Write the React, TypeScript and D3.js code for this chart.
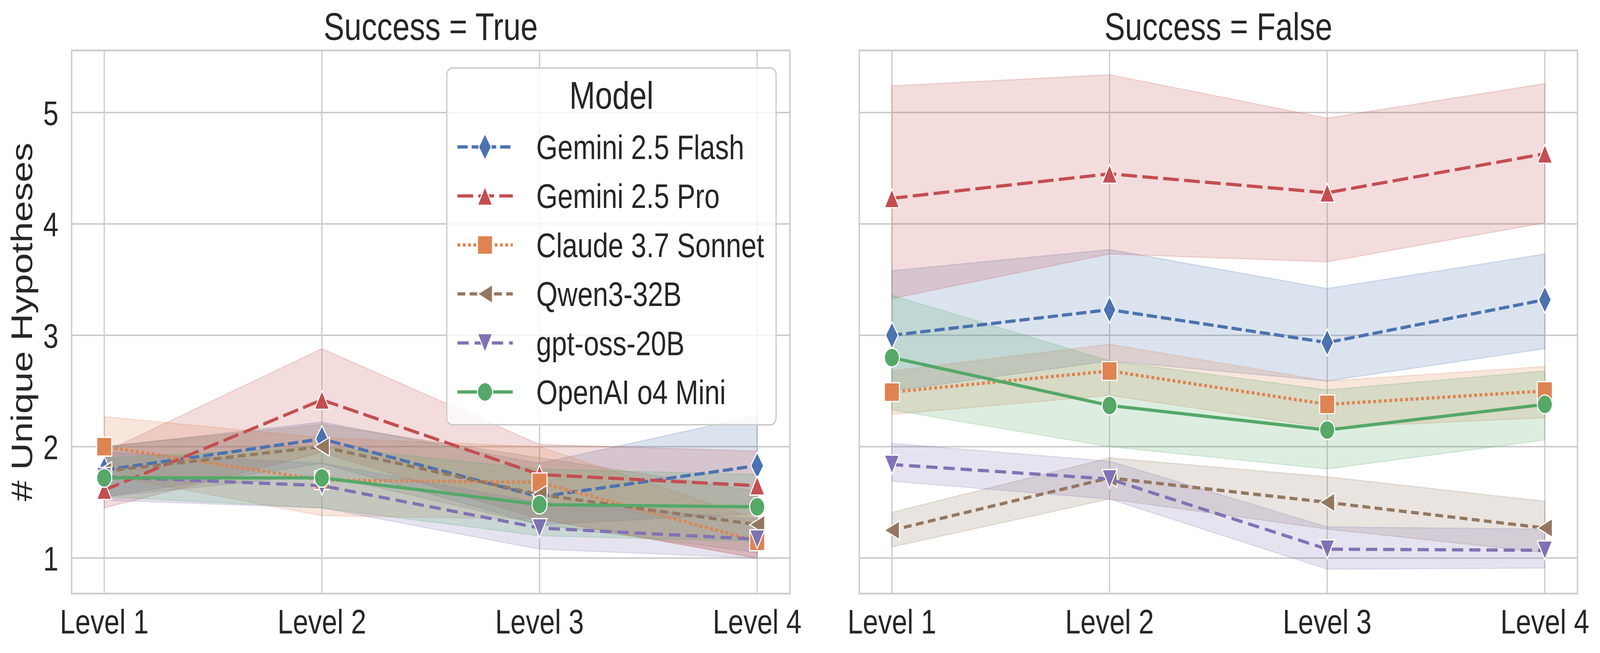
import * as React from 'react';
import * as d3 from 'd3';

// categories
const levels = ['Level 1', 'Level 2', 'Level 3', 'Level 4'];
const models = ['Gemini 2.5 Flash', 'Gemini 2.5 Pro', 'Claude 3.7 Sonnet', 'Qwen3-32B', 'gpt-oss-20B', 'OpenAI o4 Mini'];
const yTicks = [1, 2, 3, 4, 5];
const panelTitles = ['Success = True', 'Success = False'];

// Success = True, one row per model (same order as models)
const trueMean = [
  [1.79, 2.07, 1.55, 1.83],
  [1.61, 2.42, 1.75, 1.65],
  [2.0, 1.7, 1.68, 1.15],
  [1.78, 2.0, 1.57, 1.3],
  [1.73, 1.65, 1.27, 1.17],
  [1.72, 1.72, 1.48, 1.46],
];
const trueLow = [
  [1.55, 1.85, 1.3, 1.4],
  [1.45, 1.95, 1.35, 1.0],
  [1.75, 1.38, 1.35, 1.0],
  [1.55, 1.75, 1.3, 1.05],
  [1.52, 1.45, 1.08, 1.0],
  [1.55, 1.45, 1.2, 1.15],
];
const trueHigh = [
  [2.0, 2.22, 1.85, 2.28],
  [1.95, 2.88, 2.02, 1.96],
  [2.27, 2.08, 2.0, 1.35],
  [2.0, 2.2, 1.9, 1.6],
  [1.95, 1.85, 1.5, 1.35],
  [1.9, 2.0, 1.8, 1.75],
];

// Success = False
const falseMean = [
  [3.0, 3.23, 2.935, 3.32],
  [4.23, 4.45, 4.28, 4.63],
  [2.49, 2.68, 2.38, 2.5],
  [1.25, 1.72, 1.5, 1.27],
  [1.84, 1.71, 1.08, 1.07],
  [2.8, 2.37, 2.15, 2.38],
];
const falseLow = [
  [2.5, 2.77, 2.59, 2.88],
  [3.33, 3.73, 3.66, 4.01],
  [2.29, 2.46, 2.17, 2.26],
  [1.1, 1.53, 1.26, 1.05],
  [1.69, 1.53, 0.9, 0.91],
  [2.33, 2.0, 1.8, 2.06],
];
const falseHigh = [
  [3.58, 3.77, 3.42, 3.73],
  [5.24, 5.34, 4.95, 5.26],
  [2.68, 2.92, 2.59, 2.72],
  [1.41, 1.9, 1.73, 1.51],
  [2.03, 1.87, 1.28, 1.26],
  [3.36, 2.77, 2.51, 2.68],
];

// styles
const colors = ['#4C72B0', '#C44E52', '#DD8452', '#937860', '#8172B3', '#55A868'];
const dashes = ['33,12.5', '50,17', '9,8', '25,14', '36,19', ''];
const markers = ['d', '^', 's', '<', 'v', 'o'];

const W = 5117;
const H = 1671;
const TOP = 129;
const BOTTOM = 1519;
const PANEL_W = 2297;
const PANEL_X = [229, 2748];
const FONT = '"Liberation Sans", Arial, Helvetica, sans-serif';
const TEXT = '#262626';
const GRID = '#cccccc';
const LW = 8.3;
const MS = 48;

function markerPath(kind: string, s: number): string {
  const h = s / 2;
  switch (kind) {
    case 'o': return d3.symbol(d3.symbolCircle, Math.PI * h * h)() as string;
    case 's': return `M${-h},${-h}H${h}V${h}H${-h}Z`;
    case '^': return `M0,${-h}L${h},${h}L${-h},${h}Z`;
    case 'v': return `M0,${h}L${-h},${-h}L${h},${-h}Z`;
    case '<': return `M${-h},0L${h},${-h}L${h},${h}Z`;
    case 'd': {
      const a = s * Math.SQRT1_2;
      return `M0,${-a}L${a * 0.6},0L0,${a}L${-a * 0.6},0Z`;
    }
  }
  return '';
}

const y = d3.scaleLinear().domain([0.681, 5.558]).range([BOTTOM, TOP]);

function Panel({ p, mean, low, high }: { p: number; mean: number[][]; low: number[][]; high: number[][] }) {
  const x0 = PANEL_X[p];
  const x = d3.scaleLinear().domain([-0.15, 3.15]).range([x0, x0 + PANEL_W]);
  const line = d3.line<number>().x((_, i) => x(i)).y(v => y(v));
  const bands = models.map((_, m) =>
    d3.area<number>()
      .x((_, i) => x(i))
      .y0((_, i) => y(low[m][i]))
      .y1((_, i) => y(high[m][i]))(mean[m]) as string
  );
  return (
    <g>
      {yTicks.map(t => (
        <line key={'gy' + t} x1={x0} x2={x0 + PANEL_W} y1={y(t)} y2={y(t)} stroke={GRID} strokeWidth={4} />
      ))}
      {levels.map((_, i) => (
        <line key={'gx' + i} x1={x(i)} x2={x(i)} y1={TOP} y2={BOTTOM} stroke={GRID} strokeWidth={4} />
      ))}
      {bands.map((d, m) => (
        <path key={'b' + m} d={d} fill={colors[m]} fillOpacity={0.2} stroke={colors[m]} strokeOpacity={0.2} strokeWidth={3} />
      ))}
      {models.map((_, m) => (
        <g key={'l' + m}>
          <path d={line(mean[m]) as string} fill="none" stroke={colors[m]} strokeWidth={LW}
            strokeDasharray={dashes[m] || undefined} />
          {mean[m].map((v, i) => (
            <path key={i} d={markerPath(markers[m], MS)} transform={`translate(${x(i)},${y(v)})`}
              fill={colors[m]} stroke="#fff" strokeWidth={3.2} />
          ))}
        </g>
      ))}
      <rect x={x0} y={TOP} width={PANEL_W} height={BOTTOM - TOP} fill="none" stroke={GRID} strokeWidth={4.5} />
      {levels.map((l, i) => (
        <text key={'xl' + i} x={x(i)} y={1621} textAnchor="middle" fontSize={88} fill={TEXT}>{l}</text>
      ))}
      {p === 0 && yTicks.map(t => (
        <text key={'yl' + t} x={187} y={y(t)} dy="0.36em" textAnchor="end" fontSize={88} fill={TEXT}>{t}</text>
      ))}
      <text x={x0 + PANEL_W / 2} y={102} textAnchor="middle" fontSize={99} fill={TEXT}>{panelTitles[p]}</text>
    </g>
  );
}

function Legend() {
  const left = 1429, right = 2482, top = 174, bottom = 1087;
  return (
    <g>
      <rect x={left} y={top} width={right - left} height={bottom - top} rx={18} fill="#fff" fillOpacity={0.8} stroke={GRID} strokeWidth={4} />
      <text x={(left + right) / 2} y={278} textAnchor="middle" fontSize={99} fill={TEXT}>Model</text>
      {models.map((name, m) => {
        const cy = 376 + m * 125.4;
        return (
          <g key={name}>
            <line x1={1463} x2={1640} y1={cy} y2={cy} stroke={colors[m]} strokeWidth={LW} strokeDasharray={dashes[m] || undefined} />
            <path d={markerPath(markers[m], MS)} transform={`translate(1551,${cy})`} fill={colors[m]} stroke="#fff" strokeWidth={3.2} />
            <text x={1715} y={cy + 31} fontSize={88} fill={TEXT}>{name}</text>
          </g>
        );
      })}
    </g>
  );
}

// the browser window is narrower than the 5117 px asked for, so the
// 5117x1671 drawing is scaled to fill whatever viewport there is
export default function App() {
  return (
    <svg viewBox={`0 0 ${W} ${H}`} preserveAspectRatio="none"
      style={{ position: 'absolute', left: 0, top: 0, width: '100vw', height: '100vh', display: 'block', background: '#fff' }}
      fontFamily={FONT}>
      <rect width={W} height={H} fill="#fff" />
      <Panel p={0} mean={trueMean} low={trueLow} high={trueHigh} />
      <Panel p={1} mean={falseMean} low={falseLow} high={falseHigh} />
      <Legend />
      <text transform={`translate(103,824) rotate(-90)`} textAnchor="middle" fontSize={96} fill={TEXT}># Unique Hypotheses</text>
    </svg>
  );
}
